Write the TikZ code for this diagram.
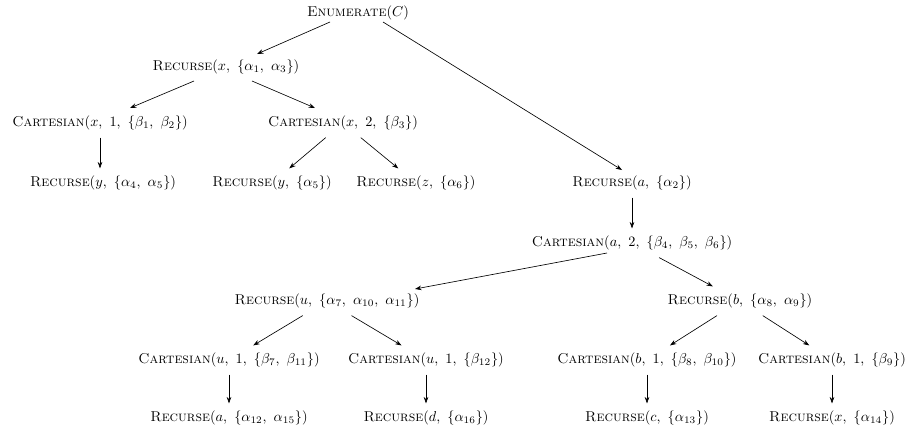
\documentclass[tikz,border=0pt]{standalone}
\usetikzlibrary{arrows.meta}
\begin{document}
\begin{tikzpicture}[x=0.7pt,y=-0.7pt,
  tn/.style={inner sep=0pt,minimum height=20pt,font=\fontsize{10}{12}\selectfont},
  edge/.style={-{Stealth[length=4.5pt,width=3.2pt]},line width=0.45pt}]
\useasboundingbox (0,0) rectangle (917,436);
\newcommand{\R}[1]{\textsc{Recurse}$(#1)$}
\newcommand{\C}[1]{\textsc{Cartesian}$(#1)$}
\node[tn] (E) at (358,13) {\textsc{Enumerate}$(C)$};
\node[tn] (Rx) at (226,67) {\R{x,\ \{\alpha_1,\ \alpha_3\}}};
\node[tn] (Cx1) at (100,123) {\C{x,\ 1,\ \{\beta_1,\ \beta_2\}}};
\node[tn] (Cx2) at (343,123) {\C{x,\ 2,\ \{\beta_3\}}};
\node[tn] (Ry45) at (103,183) {\R{y,\ \{\alpha_4,\ \alpha_5\}}};
\node[tn] (Ry5) at (272,183) {\R{y,\ \{\alpha_5\}}};
\node[tn] (Rz) at (416,183) {\R{z,\ \{\alpha_6\}}};
\node[tn] (Ra) at (632,183) {\R{a,\ \{\alpha_2\}}};
\node[tn] (Ca) at (632,243) {\C{a,\ 2,\ \{\beta_4,\ \beta_5,\ \beta_6\}}};
\node[tn] (Ru) at (327,301) {\R{u,\ \{\alpha_7,\ \alpha_{10},\ \alpha_{11}\}}};
\node[tn] (Rb) at (740,301) {\R{b,\ \{\alpha_8,\ \alpha_9\}}};
\node[tn] (Cu1) at (229,360) {\C{u,\ 1,\ \{\beta_7,\ \beta_{11}\}}};
\node[tn] (Cu12) at (426,360) {\C{u,\ 1,\ \{\beta_{12}\}}};
\node[tn] (Cb1) at (647,360) {\C{b,\ 1,\ \{\beta_8,\ \beta_{10}\}}};
\node[tn] (Cb9) at (832,360) {\C{b,\ 1,\ \{\beta_9\}}};
\node[tn] (Ra12) at (229,418) {\R{a,\ \{\alpha_{12},\ \alpha_{15}\}}};
\node[tn] (Rd) at (426,418) {\R{d,\ \{\alpha_{16}\}}};
\node[tn] (Rc) at (647,418) {\R{c,\ \{\alpha_{13}\}}};
\node[tn] (Rx14) at (832,418) {\R{x,\ \{\alpha_{14}\}}};
\draw[edge] ([shift={(-28,9)}]E.center) -- ([shift={(31,-13)}]Rx.center);
\draw[edge] ([shift={(25,9)}]E.center) -- ([shift={(-10,-13)}]Ra.center);
\draw[edge] ([shift={(-32,14)}]Rx.center) -- ([shift={(30,-15)}]Cx1.center);
\draw[edge] ([shift={(26,14)}]Rx.center) -- ([shift={(-28,-15)}]Cx2.center);
\draw[edge] (Cx1) -- (Cx1 |- Ry45.north);
\draw[edge] (Cx2) -- (Ry5);
\draw[edge] (Cx2) -- (Rz);
\draw[edge] (Ra) -- (Ca);
\draw[edge] ([shift={(-25,10)}]Ca.center) -- ([shift={(88,-12)}]Ru.center);
\draw[edge] (Ca) -- (Rb);
\draw[edge] (Ru) -- (Cu1);
\draw[edge] (Ru) -- (Cu12);
\draw[edge] (Rb) -- (Cb1);
\draw[edge] (Rb) -- (Cb9);
\draw[edge] (Cu1) -- (Ra12);
\draw[edge] (Cu12) -- (Rd);
\draw[edge] (Cb1) -- (Rc);
\draw[edge] (Cb9) -- (Rx14);
\end{tikzpicture}
\end{document}
